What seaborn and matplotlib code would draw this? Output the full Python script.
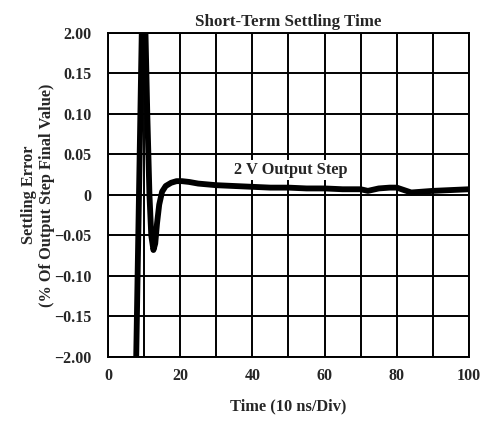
import matplotlib
matplotlib.use("Agg")
import matplotlib.pyplot as plt
import seaborn as sns
import pandas as pd

# Data
time_ns = [7.6, 9.6, 10.3, 10.9, 11.5, 12.0, 12.6, 13.1, 13.6, 14.2, 15.0, 16.0, 17.5,
           19.0, 20.5, 22.5, 25, 30, 35, 40, 45, 50, 55, 60, 65, 70, 72, 75, 78,
           80, 82, 84, 87, 90, 95, 100]
settling_err = [-0.26, 0.26, 0.22, 0.10, 0.0, -0.05, -0.068, -0.06, -0.035, -0.012, 0.004,
                0.011, 0.015, 0.017, 0.017, 0.016, 0.014, 0.012, 0.011, 0.010, 0.009, 0.009,
                0.008, 0.008, 0.007, 0.007, 0.005, 0.008, 0.009, 0.009, 0.006, 0.003,
                0.004, 0.005, 0.006, 0.007]
y_tick_vals = [-0.20, -0.15, -0.10, -0.05, 0, 0.05, 0.10, 0.15, 0.20]
y_tick_labels = ["\u22122.00", "\u22120.15", "\u22120.10", "\u22120.05", "0",
                 "0.05", "0.10", "0.15", "2.00"]
x_tick_vals = [0, 20, 40, 60, 80, 100]
x_grid_vals = list(range(0, 101, 10))

df = pd.DataFrame({"t": time_ns, "err": settling_err})

sns.set_style("white")
plt.rcParams["font.family"] = ["Liberation Serif", "DejaVu Serif"]

fig = plt.figure(figsize=(4.84, 4.21), dpi=100)
ax = fig.add_axes([0.223, 0.152, 0.746, 0.770])

sns.lineplot(data=df, x="t", y="err", ax=ax, color="black", linewidth=4.2,
             sort=False, estimator=None)

ax.set_xlim(0, 100)
ax.set_ylim(-0.20, 0.20)
ax.set_xticks(x_grid_vals, minor=True)
ax.set_xticks(x_tick_vals)
ax.set_xticklabels([str(v) for v in x_tick_vals], fontsize=11.5, fontweight="bold")
ax.set_yticks(y_tick_vals)
ax.set_yticklabels(y_tick_labels, fontsize=11.5, fontweight="bold")
ax.grid(True, which="both", axis="x", color="black", linewidth=1.4)
ax.grid(True, which="major", axis="y", color="black", linewidth=1.4)
ax.tick_params(axis="x", which="both", length=0, pad=8)
ax.tick_params(axis="y", which="both", length=0, pad=12)
for s in ax.spines.values():
    s.set_color("black")
    s.set_linewidth(1.4)

ax.set_xlabel("Time (10 ns/Div)", fontsize=11.8, fontweight="bold", labelpad=10)
ax.set_ylabel("Settling Error\n(% Of Output Step Final Value)", fontsize=11.8,
              fontweight="bold", linespacing=1.2)
ax.yaxis.set_label_coords(-0.146, 0.5)
ax.set_title("Short-Term Settling Time", fontsize=12.2, fontweight="bold", pad=5)

ax.text(50.7, 0.031, "2 V Output Step", fontsize=11.8, fontweight="bold",
        ha="center", va="center",
        bbox=dict(facecolor="white", edgecolor="none", pad=1.5))

fig.savefig("out.png", dpi=100)
